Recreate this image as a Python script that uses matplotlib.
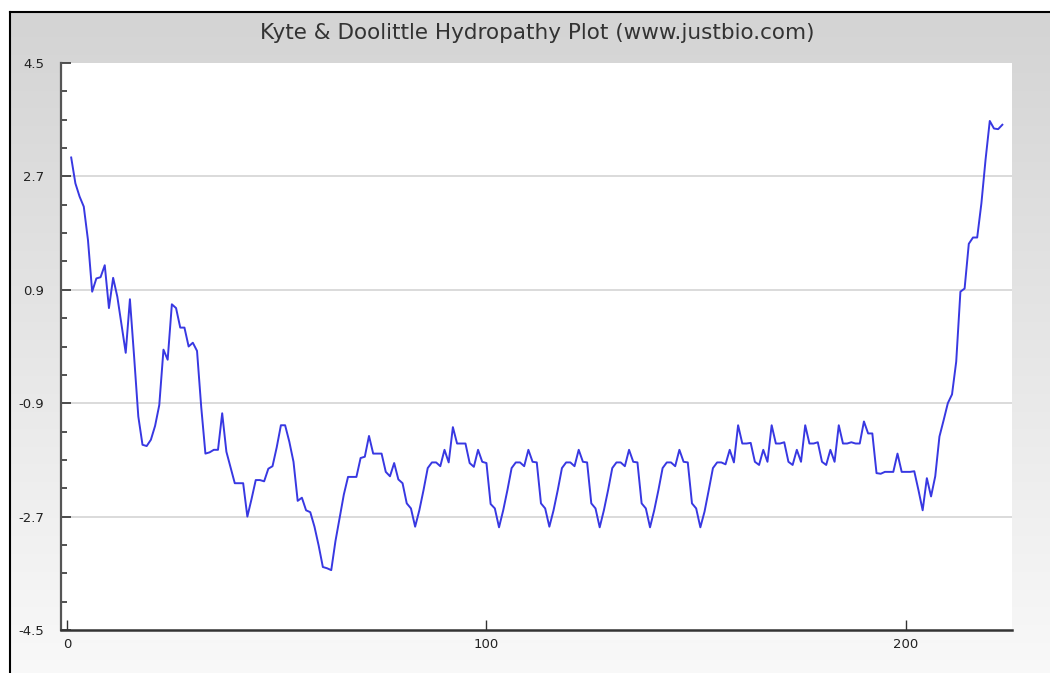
import numpy as np
import matplotlib
matplotlib.use("Agg")
import matplotlib.pyplot as plt
from matplotlib.ticker import FixedLocator, MultipleLocator
from matplotlib.lines import Line2D

title = "Kyte & Doolittle Hydropathy Plot (www.justbio.com)"
positions = list(range(1, 224))
hydropathy = [
    3.00, 2.59, 2.38, 2.22, 1.69, 0.87, 1.08, 1.10, 1.29, 0.61,
    1.09, 0.79, 0.34, -0.10, 0.75, -0.16, -1.11, -1.56, -1.58, -1.48,
    -1.26, -0.93, -0.05, -0.21, 0.67, 0.61, 0.30, 0.30, 0.00, 0.06,
    -0.07, -0.96, -1.70, -1.68, -1.64, -1.64, -1.06, -1.67, -1.92, -2.17,
    -2.17, -2.17, -2.70, -2.42, -2.12, -2.12, -2.14, -1.94, -1.90, -1.60,
    -1.25, -1.25, -1.51, -1.83, -2.45, -2.40, -2.60, -2.63, -2.86, -3.16,
    -3.50, -3.52, -3.55, -3.09, -2.72, -2.35, -2.07, -2.07, -2.07, -1.77,
    -1.75, -1.42, -1.70, -1.70, -1.70, -1.99, -2.06, -1.85, -2.11, -2.17,
    -2.49, -2.57, -2.86, -2.60, -2.28, -1.93, -1.84, -1.84, -1.90, -1.64,
    -1.84, -1.28, -1.54, -1.54, -1.54, -1.85, -1.91, -1.64, -1.83, -1.85,
    -2.50, -2.57, -2.87, -2.60, -2.28, -1.93, -1.84, -1.84, -1.90, -1.64,
    -1.83, -1.84, -2.49, -2.57, -2.86, -2.60, -2.28, -1.93, -1.84, -1.84,
    -1.90, -1.64, -1.83, -1.84, -2.49, -2.57, -2.87, -2.60, -2.28, -1.93,
    -1.84, -1.84, -1.90, -1.64, -1.83, -1.84, -2.49, -2.57, -2.87, -2.60,
    -2.28, -1.93, -1.84, -1.84, -1.90, -1.64, -1.83, -1.84, -2.49, -2.57,
    -2.87, -2.62, -2.28, -1.93, -1.84, -1.84, -1.87, -1.64, -1.84, -1.25,
    -1.54, -1.54, -1.53, -1.83, -1.88, -1.64, -1.83, -1.25, -1.54, -1.54,
    -1.52, -1.83, -1.88, -1.64, -1.83, -1.25, -1.54, -1.54, -1.52, -1.83,
    -1.88, -1.64, -1.83, -1.25, -1.54, -1.54, -1.52, -1.54, -1.54, -1.19,
    -1.38, -1.38, -2.01, -2.02, -1.99, -1.99, -1.99, -1.70, -1.99, -1.99,
    -1.99, -1.98, -2.28, -2.60, -2.09, -2.38, -2.06, -1.43, -1.17, -0.90,
    -0.76, -0.24, 0.87, 0.92, 1.63, 1.73, 1.73, 2.27, 2.97, 3.58,
    3.46, 3.45, 3.52,
]
y_ticks = [4.5, 2.7, 0.9, -0.9, -2.7, -4.5]
y_tick_labels = ["4.5", "2.7", "0.9", "-0.9", "-2.7", "-4.5"]
x_ticks = [0, 100, 200]
x_tick_labels = ["0", "100", "200"]

W, H = 1050, 673
fig = plt.figure(figsize=(W / 100, H / 100), dpi=100)
fig.patch.set_facecolor("white")

# gradient background panel
bg = fig.add_axes([10 / W, 0, 1 - 10 / W, 1 - 12 / H])
bg.set_axis_off()
grad = np.linspace(0, 1, 256).reshape(-1, 1)
c_top = np.array([0.83, 0.83, 0.83])
c_bot = np.array([0.975, 0.975, 0.975])
img = c_top[None, None, :] * (1 - grad[:, :, None]) + c_bot[None, None, :] * grad[:, :, None]
bg.imshow(img, aspect="auto", extent=[0, 1, 0, 1], origin="upper")
bg.set_xlim(0, 1)
bg.set_ylim(0, 1)

# border lines
fig.add_artist(Line2D([10 / W, 10 / W], [0, 1 - 12 / H], color="black", lw=1.5, transform=fig.transFigure))
fig.add_artist(Line2D([10 / W, 1], [1 - 12 / H, 1 - 12 / H], color="black", lw=1.5, transform=fig.transFigure))

left, right = 61 / W, 1012 / W
bottom, top = 1 - 630 / H, 1 - 63 / H
ax = fig.add_axes([left, bottom, right - left, top - bottom])
ax.set_facecolor("white")
ax.plot(positions, hydropathy, color="#3838e2", lw=1.4, zorder=3)

ax.set_xlim(-1.43, 225.3)
ax.set_ylim(-4.5, 4.5)
ax.yaxis.set_major_locator(FixedLocator(y_ticks))
ax.set_yticklabels(y_tick_labels)
ax.yaxis.set_minor_locator(MultipleLocator(0.45))
ax.xaxis.set_major_locator(FixedLocator(x_ticks))
ax.set_xticklabels(x_tick_labels)

for g in [2.7, 0.9, -0.9, -2.7]:
    ax.axhline(g, color="#d4d4d4", lw=1.2, zorder=1)

for s in ["top", "right"]:
    ax.spines[s].set_visible(False)
ax.spines["left"].set_color("#555555")
ax.spines["left"].set_linewidth(1.6)
ax.spines["bottom"].set_color("#333333")
ax.spines["bottom"].set_linewidth(1.8)

ax.tick_params(axis="y", which="major", direction="in", length=7, width=1.2, color="#333333",
               labelsize=9.5, pad=12, labelcolor="#222222")
ax.tick_params(axis="y", which="minor", direction="in", length=4, width=1.2, color="#333333")
ax.tick_params(axis="x", which="major", direction="in", length=7, width=1.0, color="#333333",
               labelsize=9.5, pad=6, labelcolor="#222222")

fig.text(537 / W, 1 - 33 / H, title, ha="center", va="center", fontsize=15.5,
         color="#333333", family="DejaVu Sans")

fig.savefig("out.png", dpi=100)
